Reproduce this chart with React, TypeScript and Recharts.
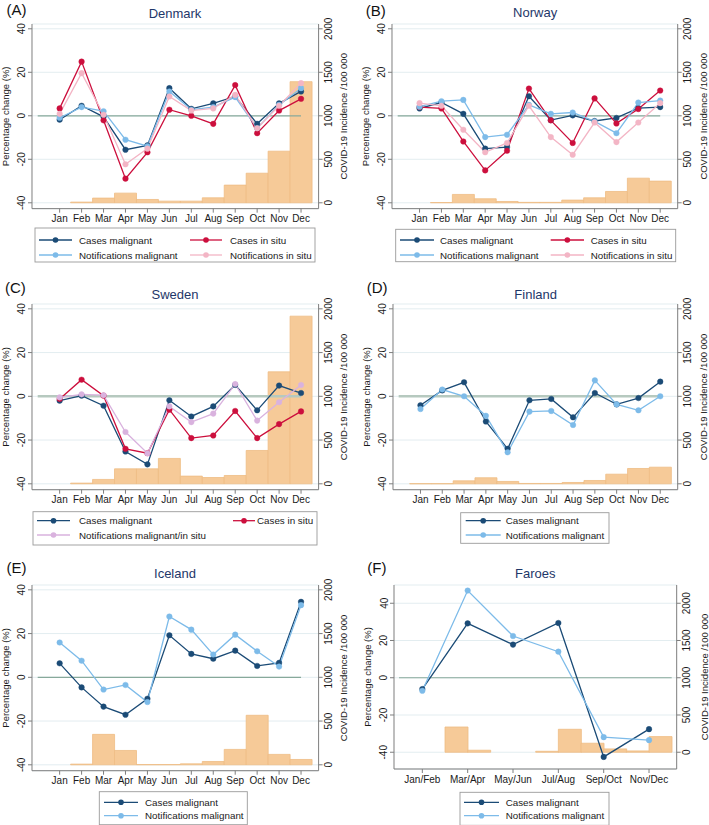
import React from 'react';
import { ComposedChart, Bar, Line, XAxis, YAxis, CartesianGrid, ReferenceLine } from 'recharts';

const FONT = '"Liberation Sans", Arial, Helvetica, sans-serif';
const NAVY = '#1b4b76';
const RED = '#cc0f3d';
const LTBLUE = '#7dbbe9';
const PINK = '#f3b5c5';
const LAVENDER = '#d9b2de';
const BAR_FILL = '#f6ca98';
const BAR_EDGE = '#efbc84';
const AXIS = '#7d7d7d';
const TEXT = '#1a1a1a';
const TITLE = '#1e3769';

const months = ['Jan', 'Feb', 'Mar', 'Apr', 'May', 'Jun', 'Jul', 'Aug', 'Sep', 'Oct', 'Nov', 'Dec'];
const periods = ['Jan/Feb', 'Mar/Apr', 'May/Jun', 'Jul/Aug', 'Sep/Oct', 'Nov/Dec'];
const pctTicks = [-40, -20, 0, 20, 40];
const incTicks = [0, 500, 1000, 1500, 2000];

// Denmark
const dkCasesMal = [-1.8, 4.6, -0.5, -15.6, -13.6, 12.7, 3.2, 5.7, 8.9, -3.7, 5.7, 11.2];
const dkCasesInSitu = [3.4, 24.9, -2.1, -28.9, -16.8, 2.8, 0, -3.7, 14.1, -8, 2.4, 7.8];
const dkNotifMal = [-0.9, 4, 2.1, -11, -14, 11.2, 2.8, 4, 8.6, -5.7, 5, 12.7];
const dkNotifInSitu = [0.9, 19.6, 0.5, -22.3, -15.1, 8.9, 2.4, 3.4, 9.6, -5.7, 4.6, 15];
const dkIncidence = [0, 8, 54, 111, 38, 19, 19, 57, 203, 340, 593, 1392];

// Norway
const noCasesMal = [3.4, 6.1, 0.9, -15.1, -14.4, 9, -2, 0.2, -2.4, -1, 3.5, 4];
const noCasesInSitu = [4, 3.4, -11.8, -25.1, -16.1, 12.5, -2.1, -12.5, 8, -3.5, 3.1, 11.6];
const noNotifMal = [4.2, 6.7, 7.3, -9.8, -8.7, 5, 0.9, 1.5, -2.6, -8, 6.1, 7];
const noNotifInSitu = [5.8, 4.6, -6.4, -16.8, -12.5, 4.6, -9.8, -17.9, -3.1, -12.1, -3.1, 5.8];
const noIncidence = [0, 3, 96, 46, 15, 5, 5, 31, 57, 130, 283, 249];

// Sweden
const seCasesMal = [-2, 0.3, -4.3, -25.2, -31.1, -1.8, -9.2, -4.6, 5.2, -6.4, 4.9, 1.5];
const seCasesInSitu = [-1.2, 7.6, 0.3, -24, -26, -6.1, -19.1, -17.9, -6.7, -19.1, -12.7, -6.9];
const seNotif = [-0.5, 0.9, 0.5, -16.3, -26, -4.6, -11.8, -7.9, 5.6, -11.1, -2.7, 5.2];
const seIncidence = [0, 8, 50, 171, 171, 290, 88, 72, 95, 381, 1280, 1916];

// Finland
const fiCasesMal = [-4.1, 2.7, 6.4, -11.5, -24, -1.8, -1.2, -9.6, 1.5, -3.7, -0.8, 6.7];
const fiNotifMal = [-5.8, 3.1, 0, -8.9, -25.6, -7, -6.7, -13.1, 7.3, -3.7, -6.4, 0];
const fiIncidence = [2, 2, 34, 69, 27, 4, 4, 15, 38, 110, 175, 190];

// Iceland
const isCasesMal = [6.4, -4.6, -13.4, -17.1, -9.8, 19.2, 10.7, 8.5, 12.2, 5.2, 6.6, 34.5];
const isNotifMal = [15.9, 7.6, -5.6, -3.5, -11.3, 27.8, 21.8, 10.4, 19.5, 11.9, 4.9, 33];
const isIncidence = [0, 8, 348, 164, 3, 3, 11, 38, 176, 566, 119, 61];

// Faroes (two-month periods, monthly incidence)
const foCasesMal = [-6.1, 29.2, 17.8, 29.4, -42.5, -27.6];
const foNotifMal = [-7, 46.8, 22.4, 14, -31.9, -33.5];
const foIncidence = [0, 0, 339, 27, 0, 0, 13, 308, 121, 45, 18, 210];

const LeftTick = (props: any) => {
  const { x, y, payload } = props;
  return (
    <text x={x} y={y} transform={`rotate(-90 ${x} ${y})`} textAnchor="middle" fontSize={10} fill={TEXT}>
      {payload.value}
    </text>
  );
};

const RightTick = (props: any) => {
  const { x, y, payload } = props;
  const tx = x + 7.2;
  return (
    <text x={tx} y={y} transform={`rotate(-90 ${tx} ${y})`} textAnchor="middle" fontSize={10} fill={TEXT}>
      {payload.value}
    </text>
  );
};

const makeXTick = (fmt: (v: number) => string) => (props: any) => {
  const { x, y, payload } = props;
  return (
    <text x={x} y={y + 7.5} textAnchor="middle" fontSize={10} fill={TEXT}>
      {fmt(payload.value)}
    </text>
  );
};

const monthRows = (series: any[], incidence: number[]) =>
  months.map((_, i) => {
    const r: any = { m: i + 1, inc: incidence[i] };
    series.forEach((s) => (r[s.key] = s.values[i]));
    return r;
  });

const periodRows = (series: any[], incidence: number[]) =>
  incidence.map((v, i) => {
    const r: any = { m: i + 1, inc: v, lx: 2 * Math.floor(i / 2) + 1.5 };
    series.forEach((s) => (r[s.key] = i % 2 === 0 ? s.values[i / 2] : null));
    return r;
  });

const panels: any[] = [
  {
    tag: '(A)', title: 'Denmark', plotLeft: 31.7, plotRight: 318.3, y40: 29, ym40: 203,
    yDomain: [-42.7, 42.2], xDomain: [-0.26, 12.8], tagX: 6.5, tagY: 15, titleY: 17.5,
    refSeg: [0, 12], refColor: '#87a99b', refWidth: 1.2, rOff: 15,
    legend: { x: 35, y: 228, w: 280, h: 34, cols: [{ lineX: 4, lineW: 33, textX: 44 }, { lineX: 155, lineW: 32, textX: 195 }], rows: [12, 27] },
    series: [
      { key: 'cm', name: 'Cases malignant', color: NAVY, values: dkCasesMal, col: 0, row: 0 },
      { key: 'cs', name: 'Cases in situ', color: RED, values: dkCasesInSitu, col: 1, row: 0 },
      { key: 'nm', name: 'Notifications malignant', color: LTBLUE, values: dkNotifMal, col: 0, row: 1 },
      { key: 'ns', name: 'Notifications in situ', color: PINK, values: dkNotifInSitu, col: 1, row: 1 },
    ],
    incidence: dkIncidence,
  },
  {
    tag: '(B)', title: 'Norway', plotLeft: 392.3, plotRight: 678, y40: 29, ym40: 203,
    yDomain: [-42.7, 42.2], xDomain: [-0.26, 12.8], tagX: 365.7, tagY: 15.5, titleY: 17,
    refSeg: [0, 12], refColor: '#87a99b', refWidth: 1.2, rOff: 14,
    legend: { x: 395.7, y: 229.3, w: 280, h: 32.4, cols: [{ lineX: 4.3, lineW: 34, textX: 44.3 }, { lineX: 155, lineW: 33.3, textX: 195 }], rows: [10.7, 25.7] },
    series: [
      { key: 'cm', name: 'Cases malignant', color: NAVY, values: noCasesMal, col: 0, row: 0 },
      { key: 'cs', name: 'Cases in situ', color: RED, values: noCasesInSitu, col: 1, row: 0 },
      { key: 'nm', name: 'Notifications malignant', color: LTBLUE, values: noNotifMal, col: 0, row: 1 },
      { key: 'ns', name: 'Notifications in situ', color: PINK, values: noNotifInSitu, col: 1, row: 1 },
    ],
    incidence: noIncidence,
  },
  {
    tag: '(C)', title: 'Sweden', plotLeft: 31.7, plotRight: 318.3, y40: 309.3, ym40: 484.3,
    yDomain: [-42.7, 42.2], xDomain: [-0.26, 12.8], tagX: 5, tagY: 293.3, titleY: 299.3,
    refSeg: [0, 12], refColor: '#b6c9bf', refWidth: 2.4, rOff: 15,
    legend: { x: 33, y: 511.7, w: 284, h: 33.3, cols: [{ lineX: 4, lineW: 33, textX: 46 }, { lineX: 200, lineW: 22, textX: 224 }], rows: [9, 23.3] },
    series: [
      { key: 'cm', name: 'Cases malignant', color: NAVY, values: seCasesMal, col: 0, row: 0 },
      { key: 'cs', name: 'Cases in situ', color: RED, values: seCasesInSitu, col: 1, row: 0 },
      { key: 'nm', name: 'Notifications malignant/in situ', color: LAVENDER, values: seNotif, col: 0, row: 1 },
    ],
    incidence: seIncidence,
  },
  {
    tag: '(D)', title: 'Finland', plotLeft: 393.3, plotRight: 678, y40: 309.3, ym40: 484.3,
    yDomain: [-42.7, 42.2], xDomain: [-0.26, 12.8], tagX: 366.7, tagY: 293.3, titleY: 298.5,
    refSeg: [0, 12], refColor: '#b6c9bf', refWidth: 2.4, rOff: 14,
    legend: { x: 460.7, y: 512.7, w: 148.3, h: 30.6, cols: [{ lineX: 5, lineW: 35, textX: 45 }], rows: [8, 22.3] },
    series: [
      { key: 'cm', name: 'Cases malignant', color: NAVY, values: fiCasesMal, col: 0, row: 0 },
      { key: 'nm', name: 'Notifications malignant', color: LTBLUE, values: fiNotifMal, col: 0, row: 1 },
    ],
    incidence: fiIncidence,
  },
  {
    tag: '(E)', title: 'Iceland', plotLeft: 31.7, plotRight: 318.3, y40: 590, ym40: 765,
    yDomain: [-42.7, 42.2], xDomain: [-0.26, 12.8], tagX: 6.5, tagY: 573.3, titleY: 578.3,
    refSeg: [0, 12], refColor: '#87a99b', refWidth: 1.2, rOff: 15,
    legend: { x: 99.3, y: 791.7, w: 148, h: 33, cols: [{ lineX: 4.7, lineW: 34, textX: 45.7 }], rows: [10.6, 24] },
    series: [
      { key: 'cm', name: 'Cases malignant', color: NAVY, values: isCasesMal, col: 0, row: 0 },
      { key: 'nm', name: 'Notifications malignant', color: LTBLUE, values: isNotifMal, col: 0, row: 1 },
    ],
    incidence: isIncidence,
  },
  {
    tag: '(F)', title: 'Faroes', plotLeft: 394, plotRight: 676.7, y40: 603.3, ym40: 752.3,
    yDomain: [-49, 49.8], xDomain: [0.25, 12.72], tagX: 367.3, tagY: 573, titleY: 578,
    refSeg: [0.47, 12.5], refColor: '#87a99b', refWidth: 1.2, periods: true, rOff: 12.5,
    legend: { x: 460, y: 792.3, w: 149, h: 33, cols: [{ lineX: 4, lineW: 35, textX: 45.7 }], rows: [10, 23.4] },
    series: [
      { key: 'cm', name: 'Cases malignant', color: NAVY, values: foCasesMal, col: 0, row: 0 },
      { key: 'nm', name: 'Notifications malignant', color: LTBLUE, values: foNotifMal, col: 0, row: 1 },
    ],
    incidence: foIncidence,
  },
];

function Panel({ p }: { p: any }) {
  const [lo, hi] = p.yDomain;
  const k = (p.ym40 - p.y40) / 80;
  const plotTop = p.y40 - (hi - 40) * k;
  const plotBottom = p.ym40 + (-40 - lo) * k;
  const width = p.plotRight - p.plotLeft + 80;
  const height = plotBottom - plotTop + 10 + 30;
  const rightDomain = [(lo + 40) * 25, (hi + 40) * 25];
  const data = p.periods ? periodRows(p.series, p.incidence) : monthRows(p.series, p.incidence);
  const xTicks = p.periods ? periods.map((_, i) => 2 * i + 1.5) : months.map((_, i) => i + 1);
  const fmt = p.periods
    ? (v: number) => periods[Math.round((v - 1.5) / 2)] ?? ''
    : (v: number) => months[Math.round(v) - 1] ?? '';
  // draw order: legend order, later series on top
  const drawOrder = [...p.series].sort((a: any, b: any) => a.row * 2 + a.col - (b.row * 2 + b.col));

  return (
    <div style={{ position: 'absolute', left: p.plotLeft - 40, top: plotTop - 10 }}>
      <ComposedChart width={width} height={height} data={data} barCategoryGap={0} barGap={0}
        margin={{ top: 10, right: 0, bottom: 0, left: 0 }}>
        <CartesianGrid vertical={false} stroke="#e3edf0" strokeWidth={1} />
        <XAxis dataKey={p.periods ? 'lx' : 'm'} type="number" domain={p.xDomain} ticks={xTicks} interval={0}
          allowDataOverflow height={30} tick={makeXTick(fmt)} tickSize={4} tickMargin={2}
          axisLine={{ stroke: AXIS }} tickLine={{ stroke: AXIS }} />
        {p.periods && (
          <XAxis xAxisId="b" dataKey="m" type="number" domain={p.xDomain} allowDataOverflow hide />
        )}
        <YAxis domain={p.yDomain} ticks={pctTicks} allowDataOverflow width={40} interval={0}
          tick={LeftTick} tickSize={4} tickMargin={2.5}
          axisLine={{ stroke: AXIS }} tickLine={{ stroke: AXIS }}
          label={{ value: 'Percentage change (%)', angle: -90, position: 'insideLeft', offset: 13.5,
            fontSize: 9.5, fill: TEXT, style: { textAnchor: 'middle' } }} />
        <YAxis yAxisId="r" orientation="right" domain={rightDomain} ticks={incTicks} allowDataOverflow width={40}
          interval={0} tick={RightTick} tickSize={4} tickMargin={2.5}
          axisLine={{ stroke: AXIS }} tickLine={{ stroke: AXIS }}
          label={{ value: 'COVID-19 Incidence /100 000', angle: -90, position: 'insideRight', offset: p.rOff,
            fontSize: 9.5, fill: TEXT, style: { textAnchor: 'middle' } }} />
        <Bar dataKey="inc" yAxisId="r" xAxisId={p.periods ? 'b' : 0} fill={BAR_FILL} stroke={BAR_EDGE}
          strokeWidth={0.8} isAnimationActive={false} />
        <ReferenceLine segment={[{ x: p.refSeg[0], y: 0 }, { x: p.refSeg[1], y: 0 }]}
          stroke={p.refColor} strokeWidth={p.refWidth} ifOverflow="visible" />
        {drawOrder.map((s: any) => (
          <Line key={s.key} dataKey={s.key} name={s.name} type="linear" stroke={s.color} strokeWidth={1.3}
            dot={{ r: 2.8, fill: s.color, stroke: s.color, strokeWidth: 0.4 }} activeDot={false}
            connectNulls isAnimationActive={false} />
        ))}
      </ComposedChart>
    </div>
  );
}

function Decor({ p }: { p: any }) {
  const lg = p.legend;
  const cx = (p.plotLeft + p.plotRight) / 2;
  return (
    <g>
      <text x={p.tagX} y={p.tagY} fontSize={15} fill="#111">{p.tag}</text>
      <text x={cx} y={p.titleY} fontSize={13} fill={TITLE} textAnchor="middle">{p.title}</text>
      <rect x={lg.x} y={lg.y} width={lg.w} height={lg.h} fill="#fff" stroke="#9a9a9a" strokeWidth={0.9} />
      {p.series.map((s: any) => {
        const c = lg.cols[s.col];
        const y = lg.y + lg.rows[s.row];
        return (
          <g key={s.key}>
            <line x1={lg.x + c.lineX} x2={lg.x + c.lineX + c.lineW} y1={y} y2={y} stroke={s.color} strokeWidth={1.3} />
            <circle cx={lg.x + c.lineX + c.lineW / 2} cy={y} r={2.8} fill={s.color} />
            <text x={lg.x + c.textX} y={y + 3.5} fontSize={9.8} fill={TEXT}>{s.name}</text>
          </g>
        );
      })}
    </g>
  );
}

export default function App() {
  return (
    <div style={{ position: 'absolute', left: 0, top: 0, width: 709, height: 825, background: '#fff',
      fontFamily: FONT, overflow: 'hidden' }}>
      {panels.map((p) => (
        <Panel key={p.tag} p={p} />
      ))}
      <svg width={709} height={825} style={{ position: 'absolute', left: 0, top: 0, pointerEvents: 'none' }}>
        {panels.map((p) => (
          <Decor key={p.tag} p={p} />
        ))}
      </svg>
    </div>
  );
}
